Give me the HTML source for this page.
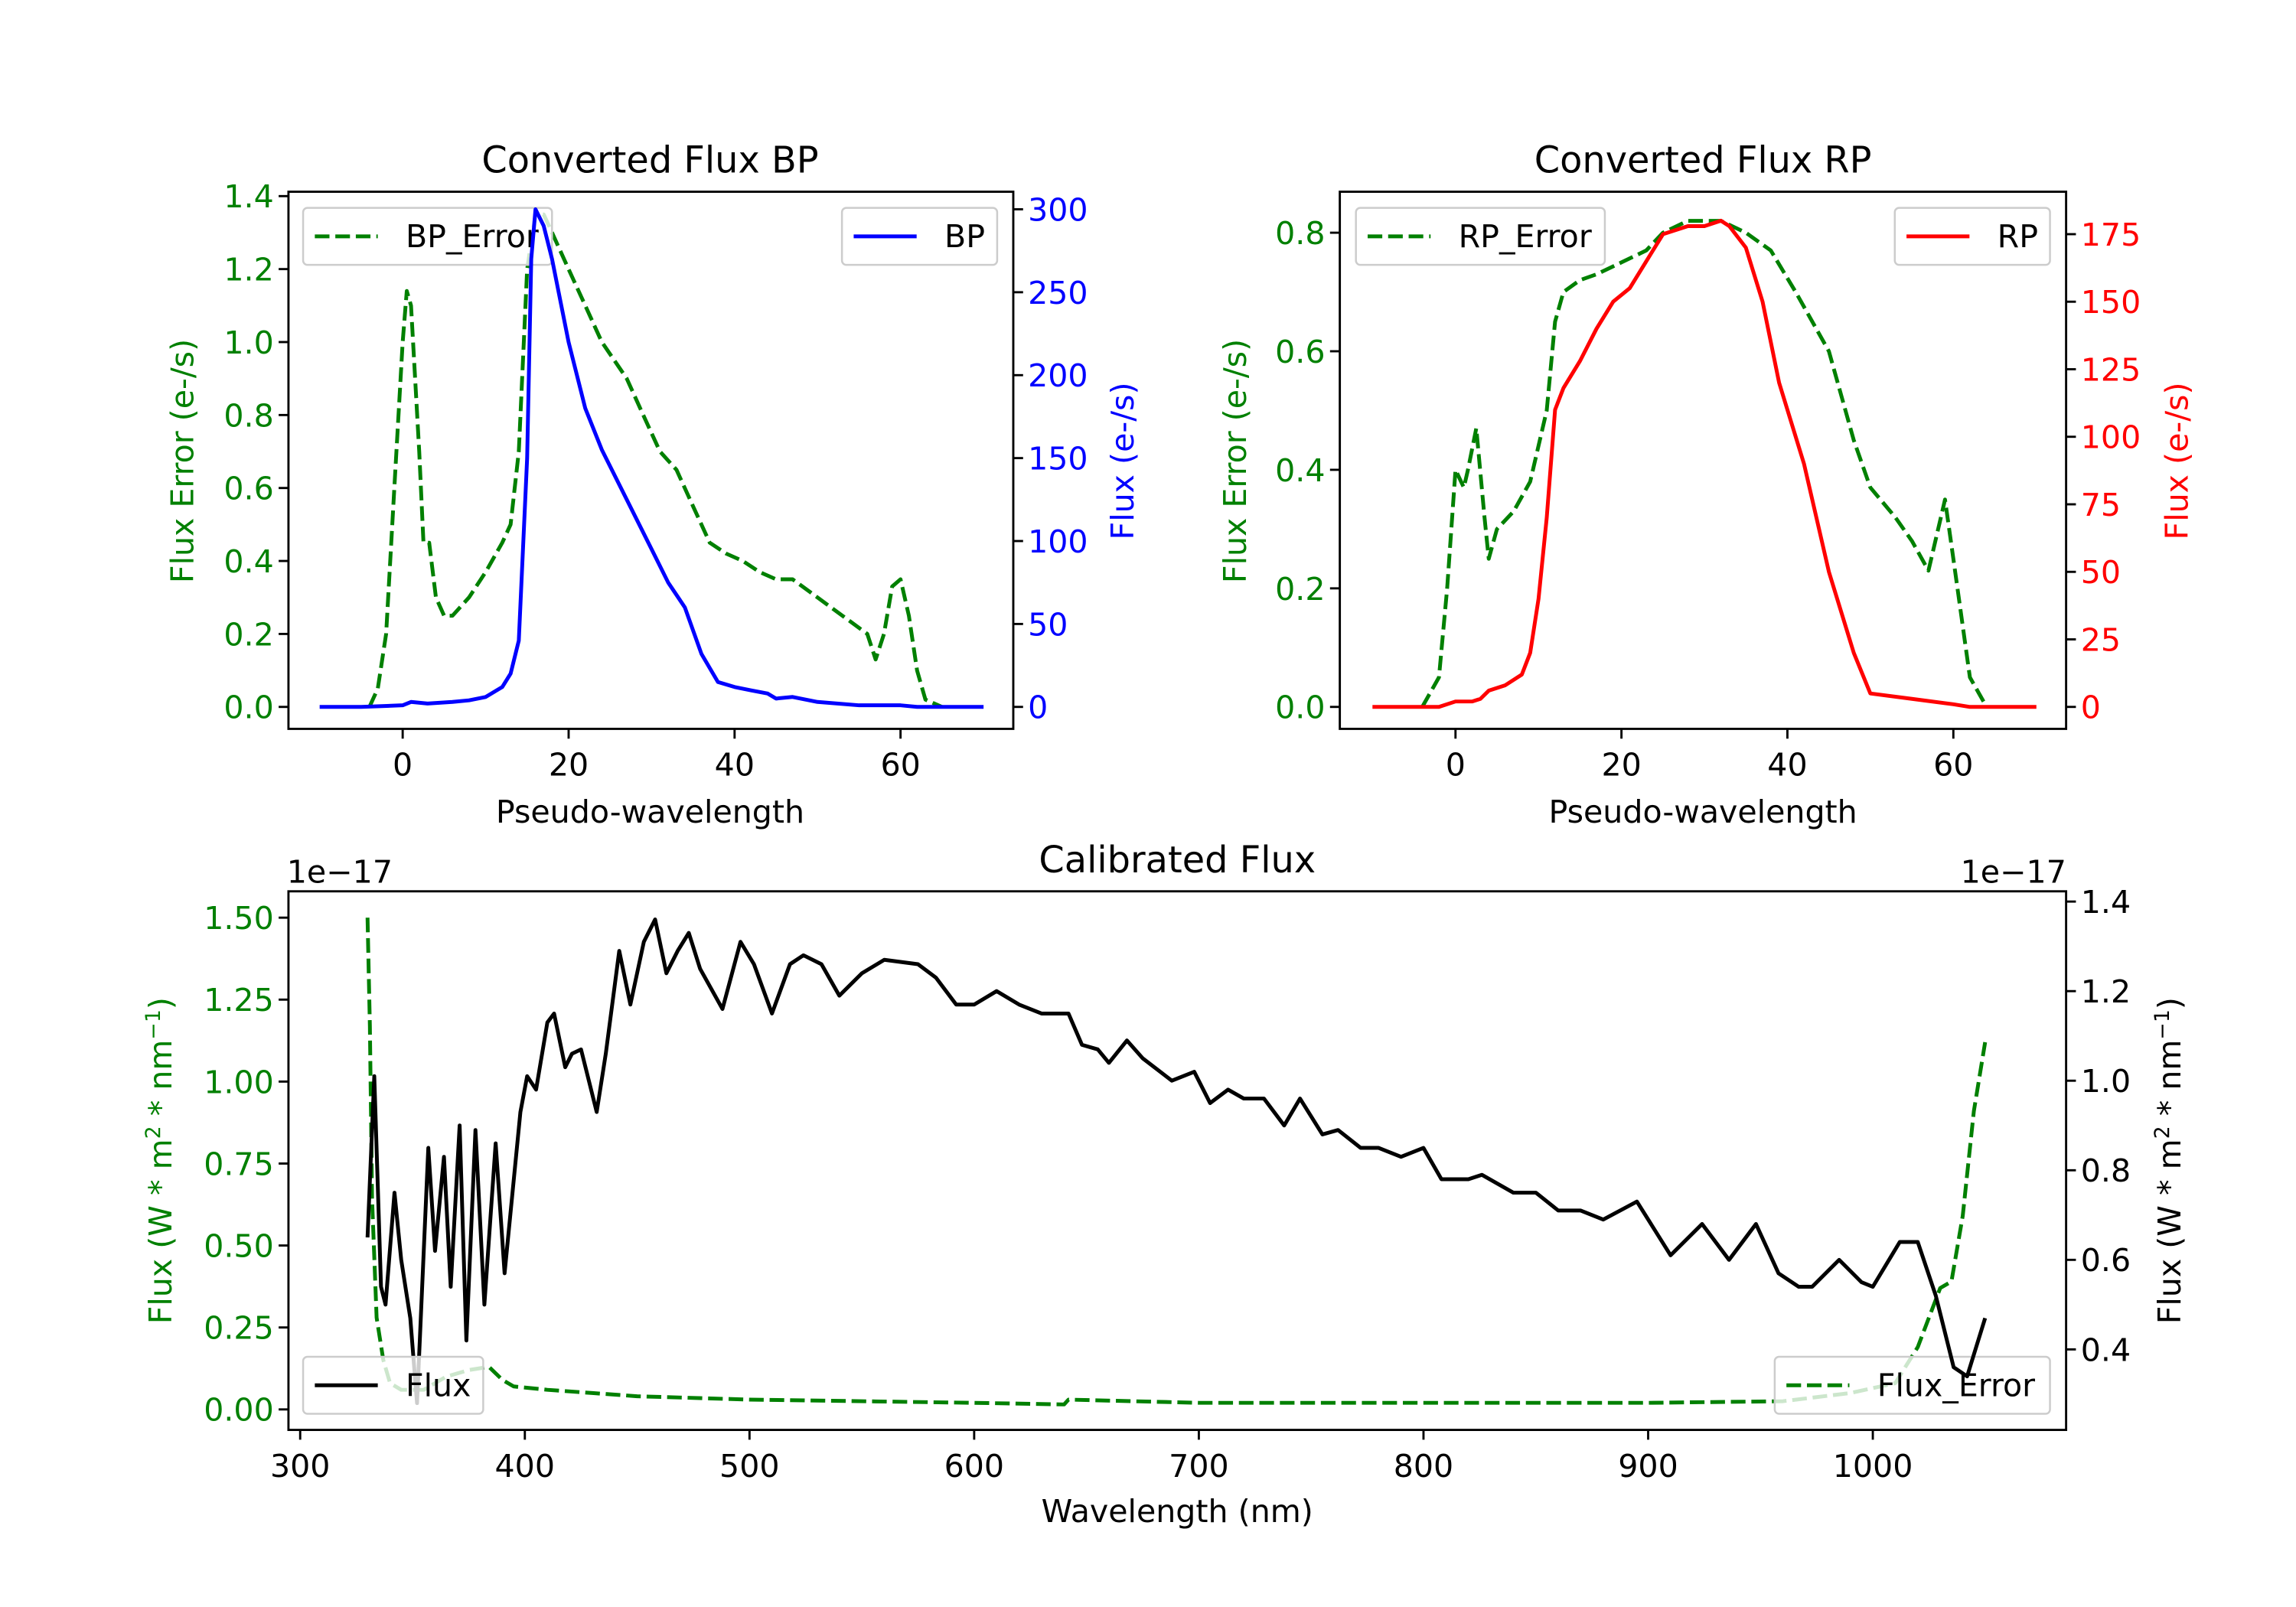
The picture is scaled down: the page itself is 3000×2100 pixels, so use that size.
<!DOCTYPE html>
<html><head><meta charset="utf-8"><style>html,body{margin:0;padding:0;background:#fff}svg{display:block}text{font-family:"DejaVu Sans","Liberation Sans",sans-serif}</style></head>
<body>
<svg id="fig" xmlns="http://www.w3.org/2000/svg" width="3000" height="2100" viewBox="0 0 1568 1098" preserveAspectRatio="none"></svg>
<script>
// ---------- data ----------
const bpFluxX=[-10,-5,0,1,3,6,8,10,12,13,14,15,15.5,16,17,18,20,22,24,27,30,32,34,36,38,40,42,44,45,47,50,55,60,62,70];
const bpFluxY=[0,0,1,3,2,3,4,6,12,20,40,150,270,300,290,270,220,180,155,125,95,75,60,32,15,12,10,8,5,6,3,1,1,0,0];
const bpErrX=[-4,-3,-2,-1,0,0.5,1,2,2.5,3.2,4,5,6,8,10,12,13,14,15,16,17,18,20,22,24,27,29,31,33,35,37,39,41,43,45,47,50,53,56,57,58,59,60,61,62,63,65];
const bpErrY=[0,0.05,0.2,0.6,1.0,1.14,1.1,0.7,0.45,0.45,0.3,0.25,0.25,0.3,0.37,0.45,0.5,0.7,1.2,1.35,1.35,1.3,1.2,1.1,1.0,0.9,0.8,0.7,0.65,0.55,0.45,0.42,0.4,0.37,0.35,0.35,0.3,0.25,0.2,0.13,0.2,0.33,0.35,0.25,0.1,0.02,0];
const rpFluxX=[-10,-2,0,2,3,4,6,8,9,10,11,12,13,15,17,19,21,23,25,28,30,32,33,35,37,39,42,45,48,50,55,60,62,70];
const rpFluxY=[0,0,2,2,3,6,8,12,20,40,70,110,118,128,140,150,155,165,175,178,178,180,178,170,150,120,90,50,20,5,3,1,0,0];
const rpErrX=[-4,-2,-1,0,1,1.5,2.5,3.5,4,5,7,9,11,12,13,15,17,20,23,25,28,32,35,38,41,45,48,50,53,55,57,58.5,59,60,62,64];
const rpErrY=[0,0.05,0.2,0.4,0.37,0.4,0.47,0.32,0.25,0.3,0.33,0.38,0.5,0.65,0.7,0.72,0.73,0.75,0.77,0.8,0.82,0.82,0.8,0.77,0.7,0.6,0.45,0.37,0.32,0.28,0.23,0.32,0.35,0.25,0.05,0];
const calWl=[330,333,336,338,342,345,349,352,357,360,364,367,371,374,378,382,387,391,398,401,405,410,413,418,421,425,432,436,442,447,453,458,463,468,473,478,488,496,502,510,518,524,532,540,550,560,575,583,592,600,610,620,630,642,648,655,660,668,675,688,698,705,713,720,729,738,745,755,762,772,780,790,800,808,820,826,840,850,860,870,880,895,910,924,936,948,958,967,973,985,995,1000,1012,1020,1028,1036,1042,1050];
const calFlux=[0.65,1.01,0.54,0.5,0.75,0.6,0.47,0.28,0.85,0.62,0.83,0.54,0.9,0.42,0.89,0.5,0.86,0.57,0.93,1.01,0.98,1.13,1.15,1.03,1.06,1.07,0.93,1.06,1.29,1.17,1.31,1.36,1.24,1.29,1.33,1.25,1.16,1.31,1.26,1.15,1.26,1.28,1.26,1.19,1.24,1.27,1.26,1.23,1.17,1.17,1.2,1.17,1.15,1.15,1.08,1.07,1.04,1.09,1.05,1.0,1.02,0.95,0.98,0.96,0.96,0.9,0.96,0.88,0.89,0.85,0.85,0.83,0.85,0.78,0.78,0.79,0.75,0.75,0.71,0.71,0.69,0.73,0.61,0.68,0.6,0.68,0.57,0.54,0.54,0.6,0.55,0.54,0.64,0.64,0.52,0.36,0.34,0.47];
const errWl=[330,331,332,334,337,340,345,355,365,375,384,390,395,410,430,450,500,600,640,642,700,800,900,960,990,1010,1020,1030,1035,1040,1045,1050];
const calErr=[1.5,1.17,0.64,0.28,0.15,0.08,0.06,0.06,0.1,0.12,0.13,0.09,0.07,0.06,0.05,0.04,0.03,0.02,0.015,0.03,0.02,0.02,0.02,0.025,0.05,0.08,0.19,0.37,0.39,0.59,0.91,1.12];
const pwTicks=[0,20,40,60];
const bpErrTicks=[0,0.2,0.4,0.6,0.8,1.0,1.2,1.4];
const bpFluxTicks=[0,50,100,150,200,250,300];
const rpErrTicks=[0,0.2,0.4,0.6,0.8];
const rpFluxTicks=[0,25,50,75,100,125,150,175];
const wlTicks=[300,400,500,600,700,800,900,1000];
const calErrTicks=[0,0.25,0.5,0.75,1.0,1.25,1.5];
const calFluxTicks=[0.4,0.6,0.8,1.0,1.2,1.4];

const NS='http://www.w3.org/2000/svg';
const svg=document.getElementById('fig');
const FS=21.5, TS=25;
function mk(tag,attrs,parent){const e=document.createElementNS(NS,tag);for(const k in attrs)e.setAttribute(k,attrs[k]);(parent||svg).appendChild(e);return e;}
function lin(d0,d1,p0,p1){return v=>p0+(v-d0)*(p1-p0)/(d1-d0);}
function fmt(v,dec){return v.toFixed(dec);}

function frame(name,L,R,T,B){
  const r=mk('rect',{x:L,y:T,width:R-L,height:B-T,fill:'none',stroke:'#000','stroke-width':1.5});
  
  
}
function xTicks(name,ticks,sx,B,dec){
  ticks.forEach(t=>{const x=sx(t);
    mk('line',{x1:x,x2:x,y1:B,y2:B+6.7,stroke:'#000','stroke-width':1.5});
    const tx=mk('text',{x:x,y:B+32,'font-size':FS,'text-anchor':'middle',fill:'#000'});
    tx.textContent=fmt(t,dec);
    
    
  });
}
function yTicks(name,ticks,sy,X,side,color,dec){
  ticks.forEach(t=>{const y=sy(t);
    mk('line',{x1:X,x2:X+(side<0?-6.7:6.7),y1:y,y2:y,stroke:'#000','stroke-width':1.5});
    const tx=mk('text',{x:X+(side<0?-10:10),y:y+7.8,'font-size':FS,'text-anchor':side<0?'end':'start',fill:color});
    tx.textContent=fmt(t,dec);
    
    
  });
}
function label(name,txt,x,y,rot,color,size){
  const t=mk('text',{x:x,y:y,'font-size':size||FS,'text-anchor':'middle',fill:color||'#000',transform:rot?`rotate(-90 ${x} ${y})`:''});
  t.innerHTML=txt;
  
  
}
function series(name,xs,ys,sx,sy,color,dash){
  const pts=xs.map((v,i)=>sx(v).toFixed(1)+','+sy(ys[i]).toFixed(1)).join(' ');
  const p=mk('polyline',{points:pts,fill:'none',stroke:color,'stroke-width':2.6,'stroke-linejoin':'round','stroke-dasharray':dash?'10,4':'none'});
  
  
}
function legend(name,x,y,w,txt,color,dash){
  const g=mk('g',{});
  
  
  mk('rect',{x:x,y:y,width:w,height:39,rx:3,fill:'rgba(255,255,255,0.8)',stroke:'#ccc','stroke-width':1.3},g);
  mk('line',{x1:x+8,x2:x+51,y1:y+19.5,y2:y+19.5,stroke:color,'stroke-width':2.6,'stroke-dasharray':dash?'10,4':'none'},g);
  const t=mk('text',{x:x+70,y:y+27,'font-size':FS,'text-anchor':'start',fill:'#000'},g);
  t.textContent=txt;
}

// ---------- BP panel ----------
(function(){
  const L=197,R=692,T=131,B=498;
  const sx=lin(0,60,275,615), sy=lin(0,1.4,483,134), sy2=lin(0,300,483,143);
  series('bp-error-line',bpErrX,bpErrY,sx,sy,'#008000',true);
  legend('bp-error-legend',207,142,170,'BP_Error','#008000',true);
  series('bp-flux-line',bpFluxX,bpFluxY,sx,sy2,'#0000ff',false);
  legend('bp-legend',575,142,106,'BP','#0000ff',false);
  frame('bp-axes-frame',L,R,T,B);
  xTicks('bp-x',pwTicks,sx,B,0);
  yTicks('bp-left',bpErrTicks,sy,L,-1,'#008000',1);
  yTicks('bp-right',bpFluxTicks,sy2,R,1,'#0000ff',0);
  label('bp-title','Converted Flux BP',444,118,false,'#000',TS);
  label('bp-x-axis-title','Pseudo-wavelength',444,562);
  label('bp-left-y-axis-title','Flux Error (e-/s)',132,315,true,'#008000');
  label('bp-right-y-axis-title','Flux (e-/s)',774,315,true,'#0000ff');
})();
// ---------- RP panel ----------
(function(){
  const L=915,R=1411,T=131,B=498;
  const sx=lin(0,60,994,1334), sy=lin(0,0.8,483,159), sy2=lin(0,175,483,160);
  series('rp-error-line',rpErrX,rpErrY,sx,sy,'#008000',true);
  legend('rp-error-legend',926,142,170,'RP_Error','#008000',true);
  series('rp-flux-line',rpFluxX,rpFluxY,sx,sy2,'#ff0000',false);
  legend('rp-legend',1294,142,106,'RP','#ff0000',false);
  frame('rp-axes-frame',L,R,T,B);
  xTicks('rp-x',pwTicks,sx,B,0);
  yTicks('rp-left',rpErrTicks,sy,L,-1,'#008000',1);
  yTicks('rp-right',rpFluxTicks,sy2,R,1,'#ff0000',0);
  label('rp-title','Converted Flux RP',1163,118,false,'#000',TS);
  label('rp-x-axis-title','Pseudo-wavelength',1163,562);
  label('rp-left-y-axis-title','Flux Error (e-/s)',851,315,true,'#008000');
  label('rp-right-y-axis-title','Flux (e-/s)',1494,315,true,'#ff0000');
})();
// ---------- Calibrated panel ----------
(function(){
  const L=197,R=1411,T=609,B=977;
  const sx=lin(300,1000,205,1279), sy=lin(0,1.5,963,627), sy2=lin(0.4,1.4,922,616);
  series('cal-error-line',errWl,calErr,sx,sy,'#008000',true);
  legend('flux-error-legend',1212,927,188,'Flux_Error','#008000',true);
  series('cal-flux-line',calWl,calFlux,sx,sy2,'#000000',false);
  legend('flux-legend',207,927,123,'Flux','#000000',false);
  frame('cal-axes-frame',L,R,T,B);
  xTicks('cal-x',wlTicks,sx,B,0);
  yTicks('cal-left',calErrTicks,sy,L,-1,'#008000',2);
  yTicks('cal-right',calFluxTicks,sy2,R,1,'#000',1);
  label('cal-title','Calibrated Flux',804,596,false,'#000',TS);
  label('cal-x-axis-title','Wavelength (nm)',804,1040);
  label('cal-left-offset','1e−17',232,603);
  label('cal-right-offset','1e−17',1375,603);
  label('cal-left-y-axis-title','Flux (W * m<tspan baseline-shift="super" font-size="14">2</tspan> * nm<tspan baseline-shift="super" font-size="14">−1</tspan>)',117,793,true,'#008000');
  label('cal-right-y-axis-title','Flux (W * m<tspan baseline-shift="super" font-size="14">2</tspan> * nm<tspan baseline-shift="super" font-size="14">−1</tspan>)',1489,793,true,'#000');
})();
</script>
</body></html>
